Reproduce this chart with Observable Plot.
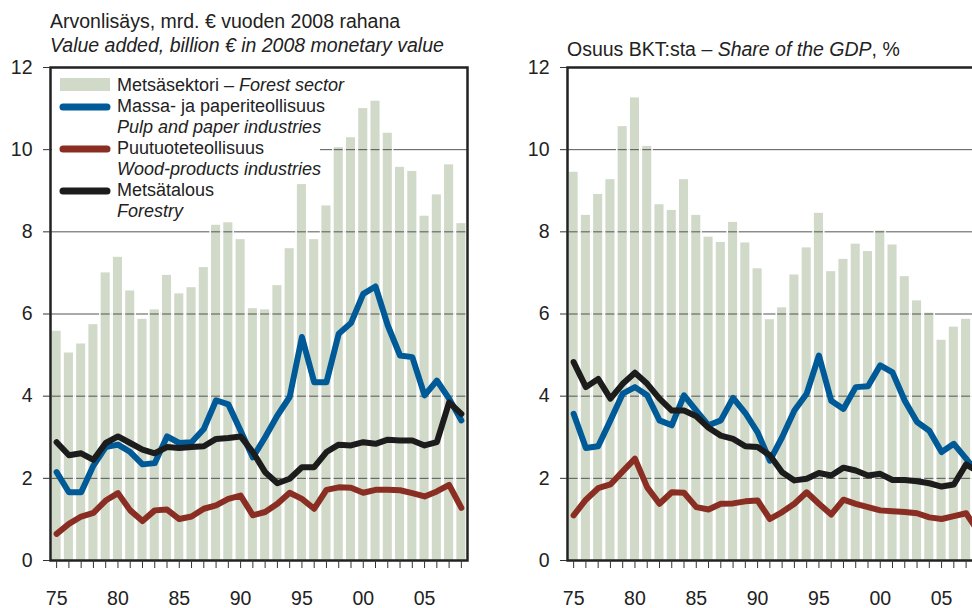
<!DOCTYPE html>
<html><head><meta charset="utf-8">
<script src="https://cdn.jsdelivr.net/npm/d3@7"></script>
<script src="https://cdn.jsdelivr.net/npm/@observablehq/plot@0.6"></script>
<style>
html,body{margin:0;padding:0;background:#fff;overflow:hidden;width:972px;height:608px}
#wrap{position:relative;width:972px;height:608px;overflow:hidden;font-family:"Liberation Sans",Arial,sans-serif;color:#222}
.panel{position:absolute;top:0}
#overlay{position:absolute;left:0;top:0}
</style></head><body><div id="wrap"></div>
<script>
// ---- data ----
const years = d3.range(1975, 2009);
const yTicks = [0, 2, 4, 6, 8, 10, 12];
const gridValues = [2, 4, 6, 8, 10];

// Left: value added, billion € (2008 money)
const leftForest   = [5.58,5.05,5.27,5.74,7.0,7.38,6.56,5.87,6.10,6.94,6.49,6.64,7.13,8.16,8.22,7.81,6.13,6.10,6.69,7.59,9.15,7.81,8.63,10.05,10.29,11.0,11.18,10.40,9.57,9.47,8.38,8.90,9.63,8.20];
const leftPulp     = [2.15,1.66,1.66,2.31,2.76,2.82,2.64,2.34,2.37,3.02,2.86,2.88,3.2,3.9,3.8,3.16,2.51,3.0,3.53,3.98,5.44,4.34,4.34,5.52,5.78,6.49,6.67,5.72,4.99,4.95,4.02,4.38,3.94,3.41];
const leftWood     = [0.65,0.89,1.07,1.16,1.46,1.64,1.22,0.96,1.22,1.24,1.01,1.07,1.26,1.34,1.50,1.58,1.10,1.18,1.38,1.65,1.50,1.26,1.72,1.78,1.77,1.65,1.72,1.72,1.71,1.64,1.56,1.68,1.84,1.28];
const leftForestry = [2.88,2.56,2.61,2.45,2.86,3.02,2.86,2.70,2.61,2.76,2.74,2.76,2.78,2.96,2.98,3.02,2.64,2.15,1.88,1.99,2.27,2.27,2.64,2.82,2.80,2.88,2.84,2.94,2.92,2.92,2.80,2.88,3.85,3.57];

// Right: share of GDP, %
const rightForest   = [9.45,8.40,8.91,9.27,10.56,11.26,10.08,8.66,8.52,9.27,8.40,7.87,7.74,8.23,7.73,7.10,5.86,6.15,6.95,7.61,8.45,7.03,7.33,7.70,7.52,8.02,7.68,6.91,6.32,6.02,5.36,5.68,5.87,5.0];
const rightPulp     = [3.57,2.74,2.78,3.41,4.06,4.22,4.02,3.41,3.29,4.02,3.65,3.29,3.41,3.96,3.59,3.12,2.43,3.0,3.65,4.06,4.99,3.89,3.69,4.22,4.24,4.75,4.58,3.89,3.37,3.16,2.64,2.84,2.48,2.1];
const rightWood     = [1.10,1.48,1.76,1.85,2.17,2.48,1.78,1.38,1.66,1.65,1.30,1.24,1.38,1.39,1.44,1.46,1.01,1.18,1.38,1.66,1.38,1.12,1.48,1.38,1.30,1.22,1.20,1.18,1.15,1.05,1.01,1.08,1.15,0.7];
const rightForestry = [4.83,4.22,4.42,3.94,4.30,4.57,4.30,3.94,3.65,3.65,3.51,3.23,3.04,2.96,2.78,2.76,2.56,2.15,1.95,1.99,2.13,2.07,2.26,2.19,2.07,2.11,1.96,1.96,1.93,1.88,1.80,1.85,2.34,2.16];

// ---- style ----
const FONT = '"Liberation Sans", Arial, sans-serif';
const barColor = "#d1dac8";
const blue = "#005a97";
const red = "#8a2e24";
const black = "#1c1c1c";
const gridColor = "#555";
const HALF = 0.37;

function panel(forest, pulp, wood, forestry, marginLeft) {
  const data = years.map((year, i) => ({year, forest: forest[i], pulp: pulp[i], wood: wood[i], forestry: forestry[i]}));
  const segs = data.flatMap(d => gridValues.filter(g => g < d.forest).map(g => ({year: d.year, g})));
  return Plot.plot({
    width: marginLeft + 417 + 12,
    height: 608,
    marginTop: 67,
    marginBottom: 48,
    marginLeft,
    marginRight: 12,
    style: {fontFamily: FONT, fontSize: "19.5px", color: "#222", background: "transparent", overflow: "visible"},
    x: {type: "linear", domain: [1974.5, 2008.5], label: null},
    y: {domain: [0, 12], label: null},
    marks: [
      Plot.ruleY(gridValues, {stroke: gridColor, strokeWidth: 1}),
      Plot.rectY(data, {x1: d => d.year - 0.5, x2: d => d.year + 0.5, y1: 0, y2: "forest", fill: "white"}),
      Plot.rectY(data, {x1: d => d.year - HALF, x2: d => d.year + HALF, y1: 0, y2: "forest", fill: barColor}),
      Plot.ruleY(segs, {y: "g", x1: d => d.year - HALF, x2: d => d.year + HALF, stroke: gridColor, strokeWidth: 1}),
      Plot.line(data, {x: "year", y: "wood", stroke: red, strokeWidth: 6}),
      Plot.line(data, {x: "year", y: "pulp", stroke: blue, strokeWidth: 6}),
      Plot.line(data, {x: "year", y: "forestry", stroke: black, strokeWidth: 6}),
      Plot.frame({stroke: "#222", strokeWidth: 2.5}),
      Plot.axisY(yTicks, {tickSize: 7, tickPadding: 11, fontSize: 19.5, label: null, stroke: "#333"}),
      Plot.axisX(years, {tickSize: 8, tickPadding: 23, fontSize: 19.5, label: null, stroke: "#333",
        tickFormat: d => d % 5 === 0 ? String(d).slice(2) : ""})
    ]
  });
}

const wrap = document.getElementById("wrap");
const left = panel(leftForest, leftPulp, leftWood, leftForestry, 50);
left.classList.add("panel"); left.style.left = "0px";
wrap.appendChild(left);
const right = panel(rightForest, rightPulp, rightWood, rightForestry, 67);
right.classList.add("panel"); right.style.left = "500px";
wrap.appendChild(right);

// ---- titles & legend overlay ----
const ov = d3.select(wrap).append("svg").attr("id", "overlay").attr("width", 972).attr("height", 608)
  .style("font-family", FONT).style("font-size", "19.5px").attr("fill", "#222");

ov.append("text").attr("x", 50).attr("y", 28).text("Arvonlisäys, mrd. € vuoden 2008 rahana");
ov.append("text").attr("x", 50).attr("y", 52).style("font-style", "italic").text("Value added, billion € in 2008 monetary value");
const rt = ov.append("text").attr("x", 567).attr("y", 56);
rt.append("tspan").text("Osuus BKT:sta – ");
rt.append("tspan").style("font-style", "italic").text("Share of the GDP");
rt.append("tspan").text(", %");

const lg = ov.append("g").style("font-size", "18px");
lg.append("rect").attr("x", 52).attr("y", 69).attr("width", 268).attr("height", 100).attr("fill", "white");
lg.append("rect").attr("x", 60).attr("y", 78).attr("width", 50).attr("height", 13).attr("fill", barColor);
const legendLines = [
  {color: blue, y: 107, fi: "Massa- ja paperiteollisuus", en: "Pulp and paper industries"},
  {color: red, y: 149, fi: "Puutuoteteollisuus", en: "Wood-products industries"},
  {color: black, y: 191, fi: "Metsätalous", en: "Forestry"}
];
const t0 = lg.append("text").attr("x", 117).attr("y", 91);
t0.append("tspan").text("Metsäsektori – ");
t0.append("tspan").style("font-style", "italic").text("Forest sector");
legendLines.forEach(l => {
  lg.append("line").attr("x1", 63).attr("x2", 107).attr("y1", l.y).attr("y2", l.y)
    .attr("stroke", l.color).attr("stroke-width", 7).attr("stroke-linecap", "round");
  lg.append("text").attr("x", 117).attr("y", l.y + 5).text(l.fi);
  lg.append("text").attr("x", 117).attr("y", l.y + 25.5).style("font-style", "italic").text(l.en);
});
</script>
</body></html>
